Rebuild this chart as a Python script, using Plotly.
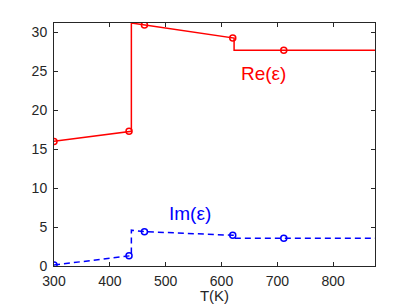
import plotly.graph_objects as go

# Re(eps) line vertices
re_T = [300, 434.4, 438.6, 438.6, 462, 620.2, 622.6, 622.6, 711.6, 875]
re_v = [16.0, 17.3, 17.3, 31.2, 30.95, 29.27, 29.27, 27.69, 27.69, 27.69]
# Re(eps) measured points (markers)
re_mT = [300, 434.4, 462, 620.2, 711.6]
re_mv = [16.0, 17.3, 30.95, 29.27, 27.69]

# Im(eps) line vertices
im_T = [300, 434.4, 438.6, 438.6, 462, 620.2, 622.6, 622.6, 711.6, 875]
im_v = [0.13, 1.33, 1.33, 4.6, 4.41, 3.94, 3.94, 3.56, 3.56, 3.56]
im_mT = [300, 434.4, 462, 620.2, 711.6]
im_mv = [0.13, 1.33, 4.41, 3.94, 3.56]

x_ticks = [300, 400, 500, 600, 700, 800]
y_ticks = [0, 5, 10, 15, 20, 25, 30]

RED = "#ff0000"
BLUE = "#0000ff"

fig = go.Figure()
fig.add_trace(go.Scatter(x=re_T, y=re_v, mode="lines",
                         line=dict(color=RED, width=1.5), hoverinfo="skip"))
fig.add_trace(go.Scatter(x=re_mT, y=re_mv, mode="markers",
                         marker=dict(symbol="circle-open", size=6, color=RED,
                                     line=dict(width=1.5, color=RED))))
fig.add_trace(go.Scatter(x=im_T, y=im_v, mode="lines",
                         line=dict(color=BLUE, width=1.5, dash="6px,4px"),
                         hoverinfo="skip"))
fig.add_trace(go.Scatter(x=im_mT, y=im_mv, mode="markers",
                         marker=dict(symbol="circle-open", size=6, color=BLUE,
                                     line=dict(width=1.5, color=BLUE))))

fig.add_annotation(x=675, y=24.7, text="Re(ε)", showarrow=False,
                   font=dict(color=RED, size=19, family="Liberation Sans, Arial"))
fig.add_annotation(x=544, y=6.77, text="Im(ε)", showarrow=False,
                   font=dict(color=BLUE, size=19, family="Liberation Sans, Arial"))

axis_common = dict(showgrid=False, zeroline=False, showline=True,
                   linecolor="#262626", linewidth=1, mirror="ticks",
                   ticks="inside", ticklen=4, tickcolor="#262626",
                   automargin=False,
                   tickfont=dict(size=14, color="#262626"))

fig.update_xaxes(range=[300, 875], tickvals=x_ticks, ticklabelstandoff=2,
                 title=dict(text="T(K)", font=dict(size=15, color="#262626"), standoff=0),
                 **axis_common)
fig.update_yaxes(range=[0, 31.2], tickvals=y_ticks, ticklabelstandoff=3, **axis_common)

# page body has an 8px default margin, so the figure is 8px smaller and offset
fig.update_layout(width=407, height=296, showlegend=False,
                  paper_bgcolor="white", plot_bgcolor="white",
                  font=dict(family="Liberation Sans, Arial, sans-serif"),
                  margin=dict(l=46, r=40, t=15, b=38))

fig.write_html("out.html")
